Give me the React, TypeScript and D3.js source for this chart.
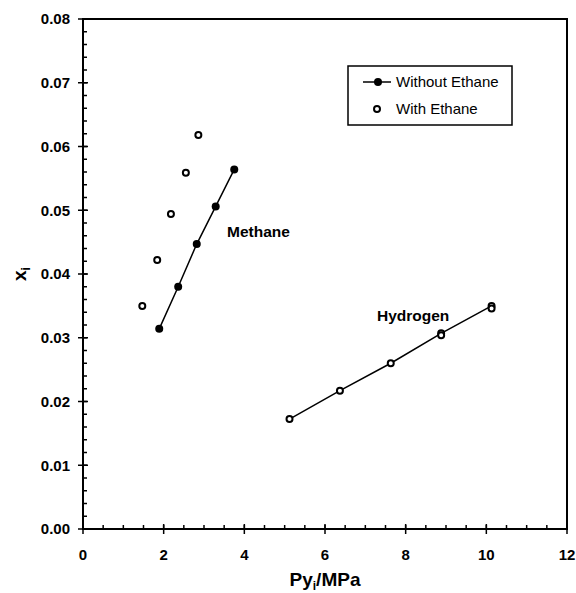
import React, { useEffect, useRef } from "react";
import * as d3 from "d3";

// Methane, without ethane (filled, joined)
const methaneWithoutX = [1.89, 2.36, 2.82, 3.29, 3.75];
const methaneWithoutY = [0.0314, 0.038, 0.0447, 0.0506, 0.0564];
// Methane, with ethane (open)
const methaneWithX = [1.47, 1.84, 2.18, 2.55, 2.86];
const methaneWithY = [0.035, 0.0422, 0.0494, 0.0559, 0.0618];
// Hydrogen (open, joined)
const hydrogenX = [5.12, 6.37, 7.63, 8.88, 8.88, 10.13, 10.13];
const hydrogenY = [0.01725, 0.0217, 0.026, 0.0307, 0.0304, 0.035, 0.0346];

const xTicks = [0, 2, 4, 6, 8, 10, 12];
const yTicks = [0, 0.01, 0.02, 0.03, 0.04, 0.05, 0.06, 0.07, 0.08];

const W = 576;
const H = 593;
const margin = { top: 19, right: 9, bottom: 64, left: 83 };

function App() {
  const ref = useRef<SVGSVGElement>(null);

  useEffect(() => {
    const svg = d3.select(ref.current);
    svg.selectAll("*").remove();
    const font = "'Liberation Sans', Arial, sans-serif";

    const x = d3.scaleLinear().domain([0, 12]).range([margin.left, W - margin.right]);
    const y = d3.scaleLinear().domain([0, 0.08]).range([H - margin.bottom, margin.top]);

    const g = svg.append("g");

    // frame
    g.append("rect")
      .attr("x", x(0))
      .attr("y", y(0.08))
      .attr("width", x(12) - x(0))
      .attr("height", y(0) - y(0.08))
      .attr("fill", "none")
      .attr("stroke", "#000")
      .attr("stroke-width", 2);

    // minor ticks
    d3.range(0, 12.01, 0.5).forEach(v => {
      g.append("line")
        .attr("x1", x(v)).attr("x2", x(v))
        .attr("y1", y(0)).attr("y2", y(0) - 4)
        .attr("stroke", "#000").attr("stroke-width", 1.5);
    });
    d3.range(0, 0.0801, 0.002).forEach(v => {
      g.append("line")
        .attr("x1", x(0)).attr("x2", x(0) + 4)
        .attr("y1", y(v)).attr("y2", y(v))
        .attr("stroke", "#000").attr("stroke-width", 1.5);
    });

    // major ticks + labels
    xTicks.forEach(v => {
      g.append("line")
        .attr("x1", x(v)).attr("x2", x(v))
        .attr("y1", y(0) - 5).attr("y2", y(0) + 5)
        .attr("stroke", "#000").attr("stroke-width", 1.5);
      g.append("text")
        .attr("x", x(v)).attr("y", y(0) + 31)
        .attr("text-anchor", "middle")
        .style("font-family", font).style("font-weight", "bold").style("font-size", "15px")
        .text(v);
    });
    yTicks.forEach(v => {
      g.append("line")
        .attr("x1", x(0) - 5).attr("x2", x(0) + 5)
        .attr("y1", y(v)).attr("y2", y(v))
        .attr("stroke", "#000").attr("stroke-width", 1.5);
      g.append("text")
        .attr("x", x(0) - 13).attr("y", y(v))
        .attr("dy", "0.35em")
        .attr("text-anchor", "end")
        .style("font-family", font).style("font-weight", "bold").style("font-size", "15px")
        .text(d3.format(".2f")(v));
    });

    // axis titles
    const xt = g.append("text")
      .attr("x", (x(0) + x(12)) / 2).attr("y", y(0) + 57)
      .attr("text-anchor", "middle")
      .style("font-family", font).style("font-weight", "bold").style("font-size", "19px");
    xt.append("tspan").text("Py");
    xt.append("tspan").attr("dy", 4).style("font-size", "12px").text("i");
    xt.append("tspan").attr("dy", -4).text("/MPa");

    const yt = g.append("text")
      .attr("transform", `translate(26, ${(y(0) + y(0.08)) / 2}) rotate(-90)`)
      .attr("text-anchor", "middle")
      .style("font-family", font).style("font-weight", "bold").style("font-size", "19px");
    yt.append("tspan").text("x");
    yt.append("tspan").attr("dy", 4).style("font-size", "12px").text("i");

    const line = d3.line<[number, number]>().x(d => x(d[0])).y(d => y(d[1]));

    // methane without ethane
    const mw: [number, number][] = methaneWithoutX.map((v, i) => [v, methaneWithoutY[i]]);
    g.append("path").attr("d", line(mw)).attr("fill", "none").attr("stroke", "#000").attr("stroke-width", 1.5);
    g.selectAll(".mw").data(mw).enter().append("circle")
      .attr("cx", d => x(d[0])).attr("cy", d => y(d[1])).attr("r", 4).attr("fill", "#000");

    // methane with ethane
    const me: [number, number][] = methaneWithX.map((v, i) => [v, methaneWithY[i]]);
    g.selectAll(".me").data(me).enter().append("circle")
      .attr("cx", d => x(d[0])).attr("cy", d => y(d[1])).attr("r", 3)
      .attr("fill", "#fff").attr("stroke", "#000").attr("stroke-width", 2);

    // hydrogen
    const hy: [number, number][] = hydrogenX.map((v, i) => [v, hydrogenY[i]]);
    const hyLine = [hy[0], hy[1], hy[2], hy[3], hy[5]];
    g.append("path").attr("d", line(hyLine)).attr("fill", "none").attr("stroke", "#000").attr("stroke-width", 1.5);
    g.selectAll(".hy").data(hy).enter().append("circle")
      .attr("cx", d => x(d[0])).attr("cy", d => y(d[1])).attr("r", 3)
      .attr("fill", "#fff").attr("stroke", "#000").attr("stroke-width", 2);

    // labels
    g.append("text").attr("x", 227).attr("y", 237)
      .style("font-family", font).style("font-weight", "bold").style("font-size", "15.5px")
      .text("Methane");
    g.append("text").attr("x", 377).attr("y", 321)
      .style("font-family", font).style("font-weight", "bold").style("font-size", "15.5px")
      .text("Hydrogen");

    // legend
    const lg = g.append("g");
    lg.append("rect").attr("x", 348).attr("y", 66).attr("width", 164).attr("height", 59)
      .attr("fill", "#fff").attr("stroke", "#000").attr("stroke-width", 1.5);
    lg.append("line").attr("x1", 363).attr("x2", 391).attr("y1", 82).attr("y2", 82)
      .attr("stroke", "#000").attr("stroke-width", 1.5);
    lg.append("circle").attr("cx", 378).attr("cy", 82).attr("r", 4).attr("fill", "#000");
    lg.append("text").attr("x", 396).attr("y", 82).attr("dy", "0.35em")
      .style("font-family", font).style("font-size", "15px").text("Without Ethane");
    lg.append("circle").attr("cx", 377).attr("cy", 109).attr("r", 3)
      .attr("fill", "#fff").attr("stroke", "#000").attr("stroke-width", 2);
    lg.append("text").attr("x", 396).attr("y", 109).attr("dy", "0.35em")
      .style("font-family", font).style("font-size", "15px").text("With Ethane");
  }, []);

  return (
    <svg
      ref={ref}
      width={W}
      height={H}
      style={{ position: "absolute", left: 0, top: 0, background: "#fff" }}
    />
  );
}

export default App;
